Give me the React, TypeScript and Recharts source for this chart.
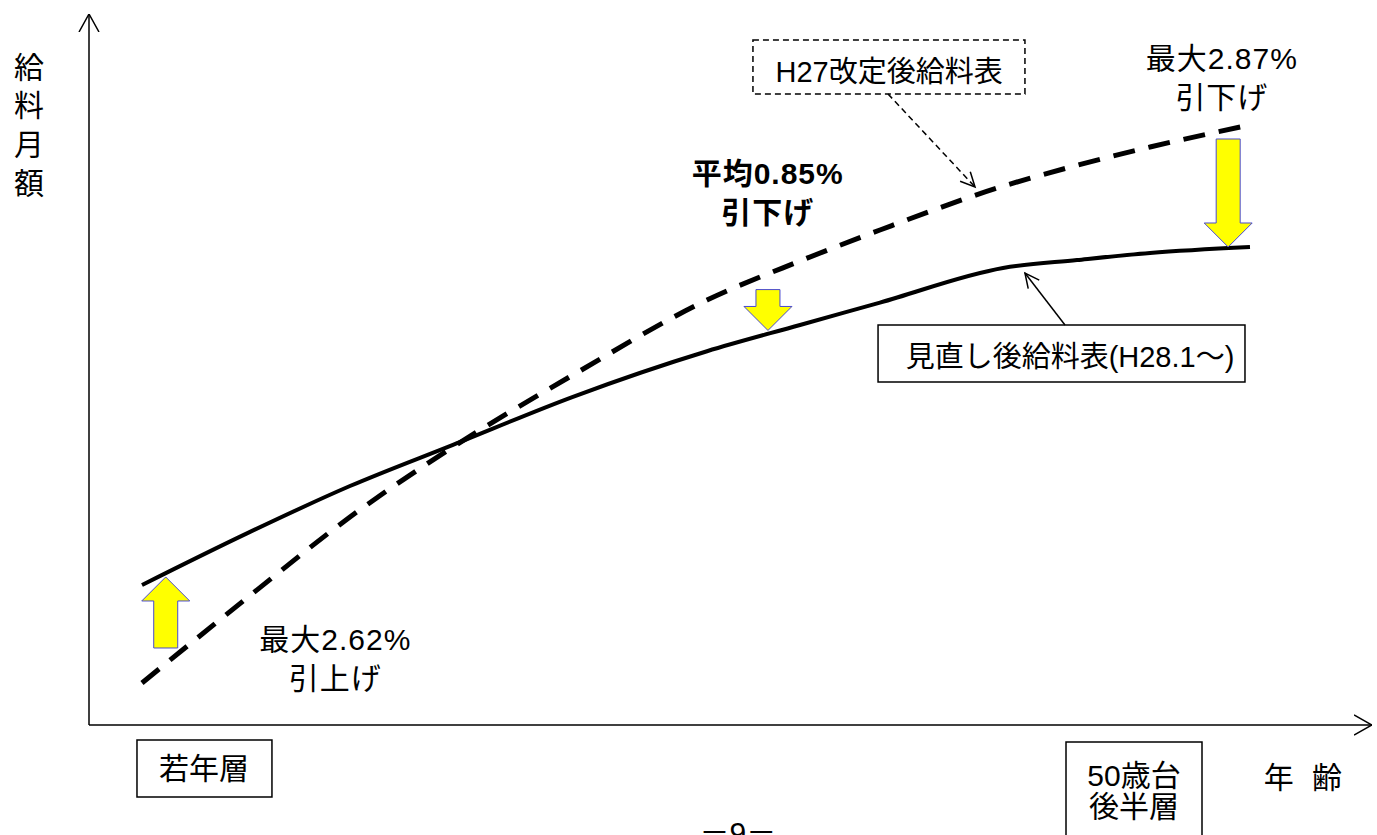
import { LineChart, Line, XAxis, YAxis, ReferenceLine, ReferenceDot, ReferenceArea } from 'recharts'

// x: age (0 = left axis, 100 = arrow tip), y: monthly salary (conceptual 0-100)
const ages = [4.13, 12.31, 20.34, 28.37, 37.72, 48.17, 55.42, 61.65, 71.24, 77.01, 82.7, 90.49]
const salaryH27 = [5.91, 17.86, 29.25, 39.1, 49.23, 59.77, 65.26, 69.62, 75.78, 78.72, 81.29, 84.39]
const salaryH28 = [19.69, 26.95, 33.61, 39.41, 46.16, 52.57, 56.26, 59.41, 64.28, 65.4, 66.39, 67.23]

const changeArrows = [
  { age: 5.98, from: 10.83, to: 20.82 },
  { age: 52.92, from: 61.24, to: 55.49 },
  { age: 88.79, from: 82.42, to: 67.23 },
]

const notes = [
  { x: -4.68, y: 84.4, lines: ['給', '料', '月', '額'], gap: 38.7, size: 30, bold: false, spacing: 0 },
  { x: 19.2, y: 9.35, lines: ['最大2.62%', '引上げ'], gap: 39, size: 30, bold: false, spacing: 1 },
  { x: 52.9, y: 74.9, lines: ['平均0.85%', '引下げ'], gap: 39, size: 30, bold: true, spacing: 1 },
  { x: 88.3, y: 91.1, lines: ['最大2.87%', '引下げ'], gap: 39, size: 30, bold: false, spacing: 1 },
  { x: 62.36, y: 91.84, lines: ['H27改定後給料表'], gap: 0, size: 29, bold: false, spacing: 0 },
  { x: 76.46, y: 51.76, lines: ['見直し後給料表(H28.1〜)'], gap: 0, size: 29, bold: false, spacing: 0 },
  { x: 8.97, y: -6.05, lines: ['若年層'], gap: 0, size: 30, bold: false, spacing: 0 },
  { x: 81.45, y: -9.21, lines: ['50歳台', '後半層'], gap: 31, size: 30, bold: false, spacing: 0 },
  { x: 94.81, y: -7.31, lines: ['年 齢'], gap: 0, size: 30, bold: false, spacing: 5 },
  { x: 50.58, y: -15.05, lines: ['－9－'], gap: 0, size: 30, bold: false, spacing: 0 },
]

const boxes = [
  { x1: 3.74, x2: 14.26, y1: -10.13, y2: -2.11, dashed: false },
  { x1: 76.15, x2: 86.75, y1: -17.6, y2: -2.39, dashed: false },
  { x1: 51.75, x2: 72.95, y1: 88.75, y2: 96.34, dashed: true },
  { x1: 61.5, x2: 90.1, y1: 48.24, y2: 56.26, dashed: false },
]

const leaders = [
  { from: [62.28, 88.75], to: [69.06, 75.67], dashed: true },
  { from: [76.07, 56.26], to: [72.95, 63.57], dashed: false },
]

const FONT = "'Liberation Sans', 'Noto Sans CJK JP', sans-serif"

const rows = ages.map((age, i) => ({ age, h27: salaryH27[i], h28: salaryH28[i] }))

function BlockArrow({ x1, y1, y2 }: any) {
  const dir = Math.sign(y2 - y1)
  const base = y2 - dir * 24
  const pts = [
    [x1 - 12, y1], [x1 - 12, base], [x1 - 24, base], [x1, y2],
    [x1 + 24, base], [x1 + 12, base], [x1 + 12, y1],
  ].map((p) => p.join(',')).join(' ')
  return <polygon points={pts} fill="#ffff00" stroke="#4a4ad0" strokeWidth={1} />
}

function Leader({ x1, y1, x2, y2, dashed }: any) {
  const ang = Math.atan2(y2 - y1, x2 - x1)
  const len = 16
  const w1 = [x2 - len * Math.cos(ang - 0.45), y2 - len * Math.sin(ang - 0.45)]
  const w2 = [x2 - len * Math.cos(ang + 0.45), y2 - len * Math.sin(ang + 0.45)]
  return (
    <g stroke="#000" strokeWidth={1.5} fill="none">
      <line x1={x1} y1={y1} x2={x2} y2={y2} strokeDasharray={dashed ? '6 4' : undefined} />
      <polyline points={`${w1[0]},${w1[1]} ${x2},${y2} ${w2[0]},${w2[1]}`} />
    </g>
  )
}

function Note({ cx, cy, note }: any) {
  const n = note.lines.length
  return (
    <text
      textAnchor="middle"
      fontFamily={FONT}
      fontSize={note.size}
      fontWeight={note.bold ? 'bold' : 'normal'}
      letterSpacing={note.spacing}
      fill="#000"
    >
      {note.lines.map((l: string, i: number) => (
        <tspan key={i} x={cx} y={cy + (i - (n - 1) / 2) * note.gap + note.size * 0.36}>
          {l}
        </tspan>
      ))}
    </text>
  )
}

export default function App() {
  return (
    <div style={{ position: 'absolute', left: 0, top: 0, background: '#fff' }}>
      <LineChart width={1377} height={835} data={rows} margin={{ top: 14, right: 5, bottom: 80, left: 29 }}>
        <defs>
          <marker id="headEnd" viewBox="0 0 18 22" refX={18} refY={11} markerWidth={18} markerHeight={22} markerUnits="userSpaceOnUse" orient="auto">
            <path d="M0,1 L18,11 L0,21" fill="none" stroke="#000" strokeWidth={1.5} />
          </marker>
          <marker id="headStart" viewBox="0 0 18 22" refX={0} refY={11} markerWidth={18} markerHeight={22} markerUnits="userSpaceOnUse" orient="auto">
            <path d="M18,1 L0,11 L18,21" fill="none" stroke="#000" strokeWidth={1.5} />
          </marker>
        </defs>
        <XAxis
          type="number"
          dataKey="age"
          domain={[0, 100]}
          allowDataOverflow
          tick={false}
          tickLine={false}
          height={30}
          axisLine={{ stroke: '#000', strokeWidth: 1.5, markerEnd: 'url(#headEnd)' }}
        />
        <YAxis
          type="number"
          domain={[0, 100]}
          allowDataOverflow
          tick={false}
          tickLine={false}
          width={60}
          axisLine={{ stroke: '#000', strokeWidth: 1.5, markerStart: 'url(#headStart)' }}
        />
        {boxes.map((b, i) => (
          <ReferenceArea
            key={`b${i}`}
            x1={b.x1}
            x2={b.x2}
            y1={b.y1}
            y2={b.y2}
            ifOverflow="visible"
            fill="#fff"
            fillOpacity={1}
            stroke="#000"
            strokeWidth={1.5}
            strokeDasharray={b.dashed ? '6 4' : undefined}
          />
        ))}
        <Line
          dataKey="h27"
          type="monotone"
          stroke="#000"
          strokeWidth={5}
          strokeDasharray="22 14"
          dot={false}
          activeDot={false}
          isAnimationActive={false}
        />
        <Line
          dataKey="h28"
          type="monotone"
          stroke="#000"
          strokeWidth={4}
          dot={false}
          activeDot={false}
          isAnimationActive={false}
        />
        {changeArrows.map((a, i) => (
          <ReferenceLine
            key={`a${i}`}
            segment={[{ x: a.age, y: a.from }, { x: a.age, y: a.to }]}
            ifOverflow="visible"
            shape={(p: any) => <BlockArrow {...p} />}
          />
        ))}
        {leaders.map((l, i) => (
          <ReferenceLine
            key={`l${i}`}
            segment={[{ x: l.from[0], y: l.from[1] }, { x: l.to[0], y: l.to[1] }]}
            ifOverflow="visible"
            shape={(p: any) => <Leader {...p} dashed={l.dashed} />}
          />
        ))}
        {notes.map((n, i) => (
          <ReferenceDot
            key={`n${i}`}
            x={n.x}
            y={n.y}
            r={0}
            ifOverflow="visible"
            shape={(p: any) => <Note {...p} note={n} />}
          />
        ))}
      </LineChart>
    </div>
  )
}
